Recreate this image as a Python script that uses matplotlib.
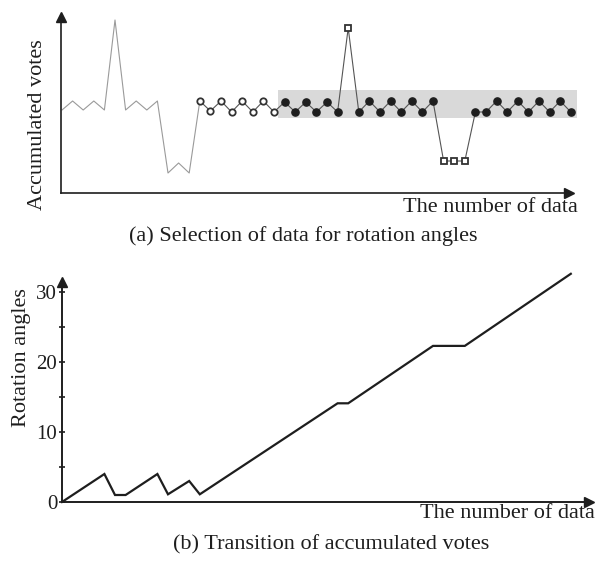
import matplotlib
matplotlib.use("Agg")
import matplotlib.pyplot as plt

# ---------------- data ----------------
# (a) accumulated votes for each data index (arbitrary units)
votes = [83, 92, 83, 92, 83, 173, 83, 92, 83, 92, 20, 30, 20,
         92, 82, 92, 81, 92, 81, 92, 81,
         91, 81, 91, 81, 91, 81,
         165,
         81, 92, 81, 92, 81, 92, 81, 92,
         32, 32, 32,
         81, 81, 92, 81, 92, 81, 92, 81, 92, 81]
open_circle_idx = list(range(13, 21))
open_square_idx = [27, 36, 37, 38]
filled_idx = list(range(21, 27)) + list(range(28, 36)) + list(range(39, 49))
band_x = [20.4, 48.6]
band_y = [75, 103]

# (b) rotation angle vs number of data
angle_x = [0, 4, 5, 6, 9, 10, 12, 13, 26, 27, 35, 38, 48]
angle_y = [0, 4, 1, 1, 4, 1.1, 3, 1.1, 14.1, 14.1, 22.3, 22.3, 32.6]
ytick_major = [0, 10, 20, 30]
ytick_minor = [5, 15, 25]

# ---------------- figure ----------------
W, H = 600, 563
fig = plt.figure(figsize=(W / 100, H / 100), dpi=100)
plt.rcParams['font.family'] = ['Liberation Serif', 'DejaVu Serif']

def fx(px):
    return px / W

def fy(py):
    return 1 - py / H

dark = '#1e1e1e'
PX = 10.6  # pixels per data index

# ---------- top panel ----------
l, r, b, t = 61, 569, 193, 17
axa = fig.add_axes([fx(l), fy(b), (r - l) / W, (b - t) / H])
axa.set_xlim((l - 62) / PX, (r - 62) / PX)
axa.set_ylim(0, b - t)
for s in ['top', 'right']:
    axa.spines[s].set_visible(False)
for s in ['left', 'bottom']:
    axa.spines[s].set_color(dark)
    axa.spines[s].set_linewidth(1.2)
axa.set_xticks([])
axa.set_yticks([])
axa.patch.set_alpha(0)
axa.plot(1, 0, '>', color=dark, ms=7, transform=axa.transAxes, clip_on=False)
axa.plot(0, 1, '^', color=dark, ms=7, transform=axa.transAxes, clip_on=False)

axa.fill_between(band_x, band_y[0], band_y[1], color='#d9d9d9', lw=0,
                 zorder=1, clip_on=False)
xs = list(range(len(votes)))
axa.plot(xs[:14], votes[:14], color='#9a9a9a', lw=0.8, zorder=2, clip_on=False)
axa.plot(xs[13:], votes[13:], color='#555555', lw=0.8, zorder=2, clip_on=False)
axa.plot(filled_idx, [votes[i] for i in filled_idx], 'o', ls='none',
         color=dark, ms=5.2, zorder=3, clip_on=False)
axa.plot(open_circle_idx, [votes[i] for i in open_circle_idx], 'o', ls='none',
         mfc='white', mec='#333333', mew=1.3, ms=4.6, zorder=3, clip_on=False)
axa.plot(open_square_idx, [votes[i] for i in open_square_idx], 's', ls='none',
         mfc='white', mec='#333333', mew=1.3, ms=4.8, zorder=3, clip_on=False)

# ---------- bottom panel ----------
l2, r2, b2, t2 = 62, 589, 502, 282
UPY = 7.0  # pixels per degree
axb = fig.add_axes([fx(l2), fy(b2), (r2 - l2) / W, (b2 - t2) / H])
axb.set_xlim(0, (r2 - 62) / PX)
axb.set_ylim(0, (b2 - t2) / UPY)
for s in ['top', 'right']:
    axb.spines[s].set_visible(False)
for s in ['left', 'bottom']:
    axb.spines[s].set_color(dark)
    axb.spines[s].set_linewidth(1.4)
axb.patch.set_alpha(0)
axb.set_xticks([])
axb.set_yticks(ytick_major)
axb.set_yticks(ytick_minor, minor=True)
axb.set_yticklabels([str(v) for v in ytick_major])
axb.tick_params(axis='y', which='both', direction='inout', length=5,
                width=1.2, color=dark, pad=1, labelsize=15, labelcolor=dark)
axb.plot(1, 0, '>', color=dark, ms=7, transform=axb.transAxes, clip_on=False)
axb.plot(0, 1, '^', color=dark, ms=7, transform=axb.transAxes, clip_on=False)
axb.plot(angle_x, angle_y, color=dark, lw=1.6, clip_on=False,
         solid_joinstyle='miter')

# ---------- texts ----------
fs = 16
fig.text(fx(38), fy(125), 'Accumulated votes', rotation=90, ha='center',
         va='center', fontsize=fs, color=dark)
fig.text(fx(578), fy(207), 'The number of data', ha='right', va='center',
         fontsize=fs, color=dark)
fig.text(fx(303), fy(236), '(a) Selection of data for rotation angles',
         ha='center', va='center', fontsize=fs, color=dark)
fig.text(fx(22), fy(358), 'Rotation angles', rotation=90, ha='center',
         va='center', fontsize=fs, color=dark)
fig.text(fx(595), fy(514), 'The number of data', ha='right', va='center',
         fontsize=fs, color=dark)
fig.text(fx(331), fy(545), '(b) Transition of accumulated votes',
         ha='center', va='center', fontsize=fs, color=dark)

fig.savefig('out.png', dpi=100)
